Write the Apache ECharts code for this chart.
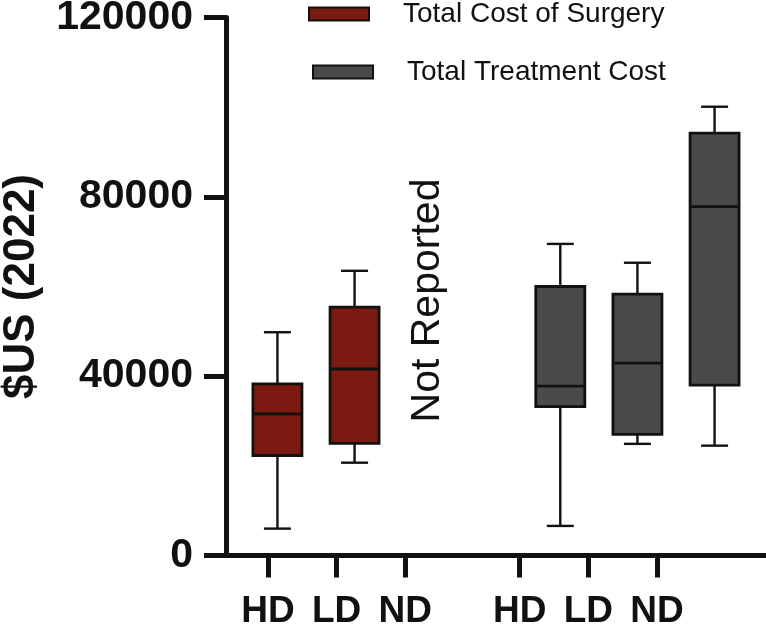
<!DOCTYPE html>
<html><head><meta charset="utf-8">
<script src="https://cdn.jsdelivr.net/npm/echarts@6/dist/echarts.min.js"></script>
<style>html,body{margin:0;padding:0;background:#fff}#c{width:766px;height:626px}</style>
</head><body><div id="c"></div>
<script>
// ---------------- data ----------------
const xTickLabels = ['HD', 'LD', 'ND', 'HD', 'LD', 'ND'];
const seriesNames = ['Total Cost of Surgery', 'Total Treatment Cost'];
const yAxisName = '$US (2022)';
const notReportedText = 'Not Reported';
const yMin = 0, yMax = 120000, yStep = 40000;
// each box: [min, Q1, median, Q3, max]
const surgeryHD = [6000, 22300, 31600, 38300, 49800];
const surgeryLD = [20700, 25000, 41600, 55400, 63500];
const surgeryND = null; // not reported
const treatmentHD = [6600, 33200, 37800, 60000, 69500];
const treatmentLD = [24900, 27000, 42900, 58300, 65300];
const treatmentND = [24500, 38000, 77800, 94200, 100100];

// ---------------- layout ----------------
const FONT = '"Liberation Sans", Arial, Helvetica, sans-serif';
const boxSlotCount = 21;               // hidden x scale for box placement
const surgerySlots = [2, 5, 8];
const treatmentSlots = [13, 16, 19];
const labelSlotCount = 17;             // x scale for tick labels
const labelSlots = [0, 3, 6, 11, 14, 17];
const colors = {surgery: '#7b1a10', treatment: '#4a4a4a', ink: '#111111'};
const BOX_W = 49, CAP_W = 27;

function toItems(slots, boxes) {
  const out = [];
  boxes.forEach((b, i) => { if (b) out.push([slots[i]].concat(b)); });
  return out;
}
const surgeryData = toItems(surgerySlots, [surgeryHD, surgeryLD, surgeryND]);
const treatmentData = toItems(treatmentSlots, [treatmentHD, treatmentLD, treatmentND]);

const labelCats = [];
for (let i = 0; i <= labelSlotCount; i++) {
  const k = labelSlots.indexOf(i);
  labelCats.push(k >= 0 ? xTickLabels[k] : '');
}

function renderBox(fill) {
  return function (params, api) {
    const x = api.value(0);
    const pMin = api.coord([x, api.value(1)]);
    const pQ1 = api.coord([x, api.value(2)]);
    const pMed = api.coord([x, api.value(3)]);
    const pQ3 = api.coord([x, api.value(4)]);
    const pMax = api.coord([x, api.value(5)]);
    const cx = pMed[0];
    const line = (x1, y1, x2, y2, w) => ({type: 'line', shape: {x1, y1, x2, y2},
      style: {stroke: colors.ink, lineWidth: w}});
    return {type: 'group', children: [
      line(cx, pMin[1], cx, pQ1[1], 2.4),
      line(cx, pQ3[1], cx, pMax[1], 2.4),
      line(cx - CAP_W / 2, pMin[1], cx + CAP_W / 2, pMin[1], 2.4),
      line(cx - CAP_W / 2, pMax[1], cx + CAP_W / 2, pMax[1], 2.4),
      {type: 'rect', shape: {x: cx - BOX_W / 2, y: pQ3[1], width: BOX_W, height: pQ1[1] - pQ3[1]},
        style: {fill: fill, stroke: colors.ink, lineWidth: 2.8}},
      line(cx - BOX_W / 2, pMed[1], cx + BOX_W / 2, pMed[1], 2.8)
    ]};
  };
}

const chart = echarts.init(document.getElementById('c'), null, {renderer: 'canvas'});
const legendBase = {
  orient: 'horizontal', padding: 0, icon: 'rect', itemWidth: 60, itemHeight: 13,
  selectedMode: false,
  textStyle: {fontFamily: FONT, fontSize: 28, color: colors.ink, padding: [0, 0, 0, 29]}
};
chart.setOption({
  animation: false,
  backgroundColor: '#ffffff',
  grid: [
    {left: 226, right: 0, top: 17.5, bottom: 70.5, outerBoundsMode: 'none', containLabel: false},
    {left: 268, right: 109, top: 17.5, bottom: 70.5, outerBoundsMode: 'none', containLabel: false}
  ],
  legend: [
    Object.assign({}, legendBase, {left: 308, top: 0,
      data: [{name: seriesNames[0], itemStyle: {color: colors.surgery, borderColor: colors.ink, borderWidth: 2}}]}),
    Object.assign({}, legendBase, {left: 312, top: 58,
      data: [{name: seriesNames[1], itemStyle: {color: colors.treatment, borderColor: colors.ink, borderWidth: 2}}]})
  ],
  xAxis: [
    {gridIndex: 0, type: 'value', min: 0, max: boxSlotCount,
      axisLine: {show: true, onZero: false, lineStyle: {color: colors.ink, width: 5}},
      axisTick: {show: false}, axisLabel: {show: false}, splitLine: {show: false}},
    {gridIndex: 1, type: 'category', boundaryGap: false, data: labelCats,
      axisLine: {show: false},
      axisTick: {show: true, length: 22, lineStyle: {color: colors.ink, width: 5},
        interval: (i, v) => v !== ''},
      axisLabel: {show: true, interval: (i, v) => v !== '', margin: 38,
        fontFamily: FONT, fontSize: 37, fontWeight: 'bold', color: colors.ink},
      splitLine: {show: false}}
  ],
  yAxis: [
    {gridIndex: 0, type: 'value', min: yMin, max: yMax, interval: yStep,
      name: yAxisName, nameLocation: 'middle', nameGap: 182, nameRotate: 90,
      nameTextStyle: {fontFamily: FONT, fontSize: 44, fontWeight: 'bold', color: colors.ink},
      axisLine: {show: true, lineStyle: {color: colors.ink, width: 5}},
      axisTick: {show: true, length: 22, lineStyle: {color: colors.ink, width: 5}},
      axisLabel: {margin: 33, fontFamily: FONT, fontSize: 41, fontWeight: 'bold', color: colors.ink,
        formatter: v => String(v)},
      splitLine: {show: false}},
    {gridIndex: 1, type: 'value', min: yMin, max: yMax, show: false}
  ],
  graphic: [
    {type: 'text', x: 428, y: 300.5, rotation: Math.PI / 2,
      style: {text: notReportedText, fontFamily: FONT, fontSize: 41, fill: colors.ink,
        align: 'center', verticalAlign: 'middle'}}
  ],
  series: [
    {name: seriesNames[0], type: 'custom', xAxisIndex: 0, yAxisIndex: 0,
      itemStyle: {color: colors.surgery}, data: surgeryData,
      encode: {x: 0, y: [1, 2, 3, 4, 5]}, renderItem: renderBox(colors.surgery)},
    {name: seriesNames[1], type: 'custom', xAxisIndex: 0, yAxisIndex: 0,
      itemStyle: {color: colors.treatment}, data: treatmentData,
      encode: {x: 0, y: [1, 2, 3, 4, 5]}, renderItem: renderBox(colors.treatment)}
  ]
});
</script></body></html>
